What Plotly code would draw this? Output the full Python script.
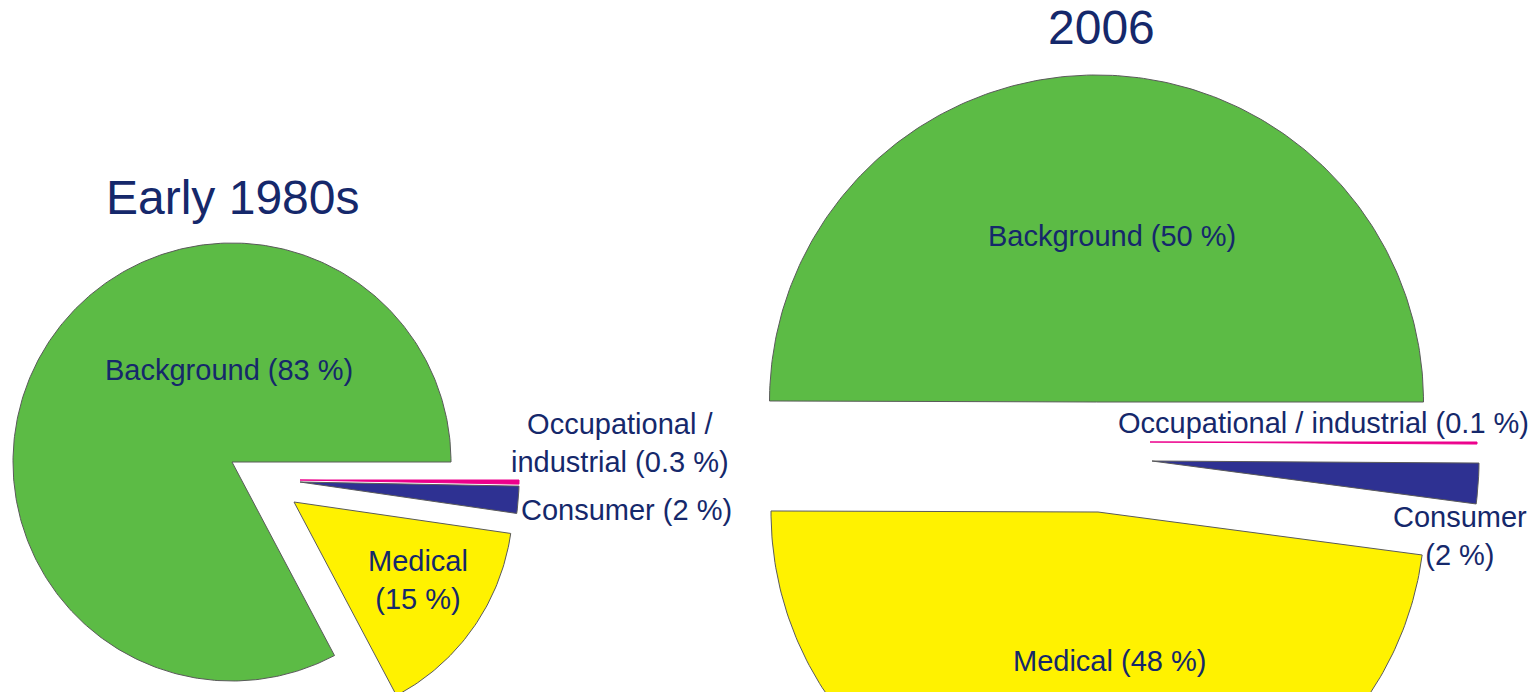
import numpy as np
import plotly.graph_objects as go

# ---------------- data ----------------
categories = ["Background", "Medical", "Consumer", "Occupational / industrial"]
values_1980s = [83, 15, 2, 0.3]
values_2006 = [50, 48, 2, 0.1]
titles = ["Early 1980s", "2006"]
labels_1980s = ["Background (83 %)", "Medical<br>(15 %)", "Consumer (2 %)",
                "Occupational /<br>industrial (0.3 %)"]
labels_2006 = ["Background (50 %)", "Medical (48 %)", "Consumer<br>(2 %)",
               "Occupational / industrial (0.1 %)"]

# ---------------- styling / layout ----------------
colors = ["#5CBB45", "#FFF200", "#2E3192", "#EC008C"]
edge = ["#5a5a5a", "#5a5a5a", "#5a5a5a", "#EC008C"]
text_col = "#15286B"
FONT = "Liberation Sans, Arial, sans-serif"
W, H = 1530, 692

pies = [
    dict(values=values_1980s, labels=labels_1980s, title=titles[0],
         center=(232, 462), r=219,
         offsets=[(0, 0), (62, 40), (68, 20), (68, 18)],
         title_pos=(232, 197),
         label_pos=[(229, 370), (418, 580), (626, 510), (620, 443)]),
    dict(values=values_2006, labels=labels_2006, title=titles[1],
         center=(1096.5, 402), r=327,
         offsets=[(0, 0), (1.5, 110), (55.5, 59), (53.5, 40)],
         title_pos=(1101, 27),
         label_pos=[(1112, 236), (1109, 661), (1460, 536), (1323, 423)]),
]

fig = go.Figure()
annotations = []

for p in pies:
    vals = np.array(p["values"], dtype=float)
    frac = vals / vals.sum()
    bounds = np.concatenate([[0], np.cumsum(frac)]) * 2 * np.pi  # ccw from east
    cx, cy = p["center"]
    for i, cat in enumerate(categories):
        ox, oy = p["offsets"][i]
        ax, ay = cx + ox, cy + oy
        th = np.linspace(bounds[i], bounds[i + 1], max(3, int(400 * frac[i])))
        xs = np.concatenate([[ax], ax + p["r"] * np.cos(th), [ax]])
        ys = np.concatenate([[ay], ay - p["r"] * np.sin(th), [ay]])
        fig.add_trace(go.Scatter(
            x=xs, y=ys, mode="lines", fill="toself",
            fillcolor=colors[i], line=dict(color=edge[i], width=1),
            name=cat, hoverinfo="name", showlegend=False))
    tx, ty = p["title_pos"]
    annotations.append(dict(x=tx, y=ty, xref="x", yref="y", text=p["title"],
                            showarrow=False, xanchor="center", yanchor="middle",
                            font=dict(family=FONT, size=48, color=text_col)))
    for lab, (lx, ly) in zip(p["labels"], p["label_pos"]):
        annotations.append(dict(x=lx, y=ly, xref="x", yref="y", text=lab,
                                showarrow=False, xanchor="center", yanchor="middle",
                                align="center",
                                font=dict(family=FONT, size=29, color=text_col)))

fig.update_layout(
    width=W, height=H,
    margin=dict(l=0, r=0, t=0, b=0),
    paper_bgcolor="white", plot_bgcolor="white",
    xaxis=dict(range=[0, W], visible=False, fixedrange=True),
    yaxis=dict(range=[H, 0], visible=False, fixedrange=True),
    annotations=annotations,
    showlegend=False,
)

fig.write_html("out.html")
